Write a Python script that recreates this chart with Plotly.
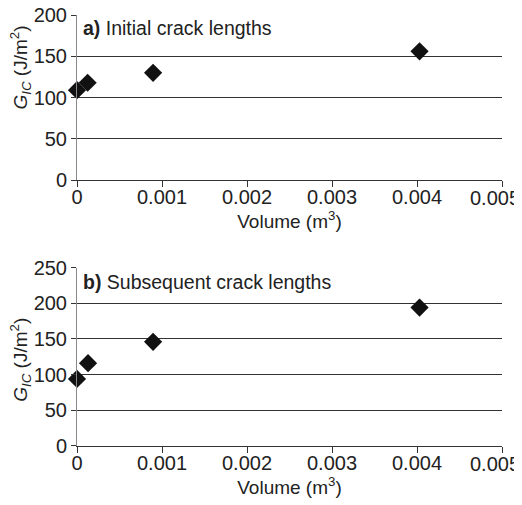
import plotly.graph_objects as go

# Data
vol_a = [0.0, 0.000125, 0.000895, 0.00403]
gic_a = [109, 118, 130, 156]
vol_b = [0.0, 0.00013, 0.000895, 0.00403]
gic_b = [94, 116, 146, 194]

x_ticks = [0, 0.001, 0.002, 0.003, 0.004, 0.005]
x_tick_text = ["0", "0.001", "0.002", "0.003", "0.004", "0.005"]
y_ticks_a = [0, 50, 100, 150, 200]
y_ticks_b = [0, 50, 100, 150, 200, 250]

FONT = "Liberation Sans, Arial, sans-serif"
fs_tick = 20
fs_title = 19
TXT = "#222222"
XR = [-1e-9, 0.005 + 1e-9]

fig = go.Figure()
marker = dict(symbol="diamond", size=14, color="#111111")
fig.add_trace(go.Scatter(x=vol_a, y=gic_a, mode="markers", marker=marker, xaxis="x", yaxis="y",
                         showlegend=False, cliponaxis=False))
fig.add_trace(go.Scatter(x=vol_b, y=gic_b, mode="markers", marker=marker, xaxis="x2", yaxis="y2",
                         showlegend=False, cliponaxis=False))

ytitle = "<i>G</i><sub><i>IC</i></sub> (J/m<sup>2</sup>)"
xtitle = "Volume (m<sup>3</sup>)"

# last label is drawn as an annotation pulled slightly inwards, as in the reference
main_labels = x_tick_text[:-1] + [""]

common_x = dict(range=XR, tickvals=x_ticks, ticktext=main_labels, showgrid=False,
                zeroline=False, showline=True, linecolor="#333333", linewidth=1,
                ticks="outside", ticklen=6, tickcolor="#333333", automargin=False,
                ticklabelstandoff=-7, ticklabeloverflow="allow",
                tickfont=dict(size=fs_tick, color=TXT),
                title=dict(text=xtitle, font=dict(size=fs_title, color=TXT), standoff=0))
common_y = dict(showgrid=True, gridcolor="#333333", gridwidth=1, zeroline=False,
                showline=True, linecolor="#888888", linewidth=1, automargin=False,
                ticks="outside", ticklen=5, tickcolor="#333333", ticklabeloverflow="allow",
                tickfont=dict(size=fs_tick, color=TXT))

annotations = []
for xa, ya in (("x", "y"), ("x2", "y2")):
    annotations.append(dict(text=x_tick_text[-1], xref=xa, yref=ya + " domain",
                            x=x_ticks[-1], y=0, xanchor="center", yanchor="middle",
                            xshift=-7, yshift=-18, showarrow=False,
                            font=dict(size=fs_tick, color=TXT)))

annotations += [
    dict(text="<b>a)</b> Initial crack lengths", xref="x domain", yref="y domain",
         x=0.01, y=0.92, xanchor="left", yanchor="middle", showarrow=False,
         font=dict(size=19.5, color=TXT)),
    dict(text="<b>b)</b> Subsequent crack lengths", xref="x2 domain", yref="y2 domain",
         x=0.01, y=0.92, xanchor="left", yanchor="middle", showarrow=False,
         font=dict(size=19.5, color=TXT)),
    dict(text=ytitle, xref="x domain", yref="y domain", x=0, y=0.682, xshift=-56,
         xanchor="center", yanchor="middle", textangle=-90, showarrow=False,
         font=dict(size=fs_title, color=TXT)),
    dict(text=ytitle, xref="x2 domain", yref="y2 domain", x=0, y=0.483, xshift=-56,
         xanchor="center", yanchor="middle", textangle=-90, showarrow=False,
         font=dict(size=fs_title, color=TXT)),
]

# The page body adds an 8px margin, so the figure is sized 8px smaller.
fig.update_layout(
    width=514, height=497,
    margin=dict(l=69, r=20, t=7, b=59),
    paper_bgcolor="white", plot_bgcolor="white",
    font=dict(family=FONT, color=TXT),
    xaxis=dict(domain=[0, 1], anchor="y", **common_x),
    yaxis=dict(domain=[0.6165, 1], anchor="x", range=[0, 200], tickvals=y_ticks_a, **common_y),
    xaxis2=dict(domain=[0, 1], anchor="y2", **common_x),
    yaxis2=dict(domain=[0, 0.414], anchor="x2", range=[0, 250], tickvals=y_ticks_b, **common_y),
    annotations=annotations,
)

fig.write_html("out.html")
